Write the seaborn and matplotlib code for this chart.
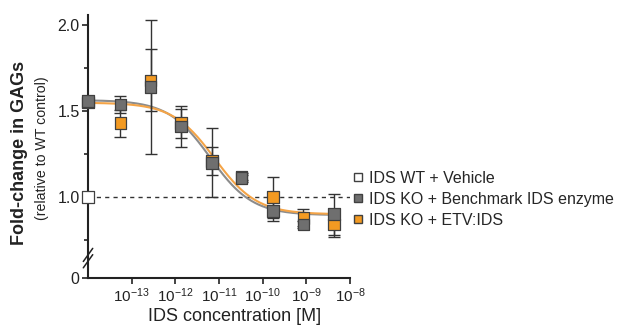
import numpy as np
import pandas as pd
import matplotlib
matplotlib.use('Agg')
import matplotlib.pyplot as plt
import seaborn as sns

# concentrations [M]; first point is the no-enzyme control drawn on the y axis
conc = [1e-14, 5.5e-14, 2.7e-13, 1.35e-12, 6.8e-12, 3.3e-11, 1.7e-10, 8.6e-10, 4.3e-9]
gray_vals = [1.56, 1.54, 1.64, 1.41, 1.20, 1.11, 0.92, 0.84, 0.90]
gray_err = [0.02, 0.05, 0.39, 0.12, 0.20, 0.02, 0.06, 0.02, 0.12]
orange_vals = [1.55, 1.43, 1.68, 1.43, 1.21, 1.12, 1.00, 0.88, 0.84]
orange_err = [0.02, 0.08, 0.18, 0.085, 0.08, 0.02, 0.12, 0.05, 0.07]
wt_val = 1.0

# 4PL fit parameters (top, bottom, logIC50, hill)
gray_fit = (1.565, 0.895, -11.2, 0.9)
orange_fit = (1.55, 0.90, -11.1, 0.9)

labels = ['IDS WT + Vehicle', 'IDS KO + Benchmark IDS enzyme', 'IDS KO + ETV:IDS']
xtick_exps = [-13, -12, -11, -10, -9, -8]
GRAY = '#6f6f6f'
ORANGE = '#f39a22'
INK = '#222222'

sns.set_style('ticks')
plt.rcParams['font.family'] = ['Liberation Sans', 'DejaVu Sans']
plt.rcParams['mathtext.fontset'] = 'custom'
plt.rcParams['mathtext.rm'] = 'Liberation Sans'

fig = plt.figure(figsize=(6.22, 3.27), dpi=100)
ax = fig.add_axes([0.1415, 0.1498, 0.4212, 0.8042])

Y0 = 0.529  # where "0" sits on the broken axis


def four_pl(logx, top, bottom, logic50, hill):
    return bottom + (top - bottom) / (1 + 10 ** ((logx - logic50) * hill))


logx = np.linspace(-14, np.log10(conc[-1]), 300)
curves = pd.DataFrame({
    'x': np.concatenate([10 ** logx, 10 ** logx]),
    'y': np.concatenate([four_pl(logx, *gray_fit), four_pl(logx, *orange_fit)]),
    'grp': ['g'] * len(logx) + ['o'] * len(logx),
})
sns.lineplot(data=curves, x='x', y='y', hue='grp', palette={'g': '#8c8c8c', 'o': '#f4a447'},
             linewidth=1.5, legend=False, ax=ax, zorder=2)

ax.axhline(1.0, color='#333333', linestyle=(0, (3, 3)), linewidth=1, zorder=1)

# error bars
ax.errorbar(conc, orange_vals, yerr=orange_err, fmt='none', ecolor='#333333',
            elinewidth=1, capsize=4.5, capthick=1, zorder=3, clip_on=False)
ax.errorbar(conc, gray_vals, yerr=gray_err, fmt='none', ecolor='#333333',
            elinewidth=1, capsize=4.5, capthick=1, zorder=3, clip_on=False)

pts = pd.DataFrame({'x': conc * 2, 'y': orange_vals + gray_vals,
                    'grp': ['o'] * len(conc) + ['g'] * len(conc)})
sns.scatterplot(data=pts, x='x', y='y', hue='grp', palette={'g': GRAY, 'o': ORANGE},
                marker='s', s=70, edgecolor='#404040', linewidth=0.9, legend=False,
                ax=ax, zorder=4, clip_on=False)
ax.scatter([conc[0]], [wt_val], marker='s', s=70, facecolor='white', edgecolor='#404040',
           linewidth=0.9, zorder=5, clip_on=False)

ax.set_xscale('log')
ax.set_xlim(1e-14, 1e-8)
ax.set_ylim(Y0, 2.06)
ax.set_xticks([10.0 ** e for e in xtick_exps])
ax.set_xticklabels([r'$\mathregular{10^{%d}}$' % e for e in xtick_exps],
                   fontsize=11, color=INK)
ax.xaxis.set_minor_locator(matplotlib.ticker.NullLocator())
ax.set_yticks([Y0, 1.0, 1.5, 2.0])
ax.set_yticklabels(['0', '1.0', '1.5', '2.0'], fontsize=11.5, color=INK)
ax.set_yticks([0.75, 1.25, 1.75], minor=True)
ax.tick_params(axis='both', which='major', length=4, width=1.2, color=INK, pad=2)
ax.tick_params(axis='y', which='minor', length=3, width=1.2, color=INK)
for side in ['left', 'bottom']:
    ax.spines[side].set_linewidth(1.5)
    ax.spines[side].set_color(INK)
sns.despine(ax=ax)

# axis break marks
yb = (0.645 - Y0) / (2.06 - Y0)
for dy in (-0.012, 0.012):
    ax.plot([-0.018, 0.018], [yb + dy - 0.025, yb + dy + 0.025], transform=ax.transAxes,
            color=INK, linewidth=1.1, clip_on=False, zorder=6)

ax.set_xlabel('IDS concentration [M]', fontsize=13, color=INK, labelpad=1)
ax.xaxis.set_label_coords(0.56, -0.115)
ax.set_ylabel('')
fig.text(0.032, 0.532, 'Fold-change in GAGs', rotation=90, fontsize=13, fontweight='bold',
         ha='center', va='center', color=INK)
fig.text(0.068, 0.547, '(relative to WT control)', rotation=90, fontsize=10.2,
         ha='center', va='center', color=INK)

handles = [
    plt.Line2D([], [], marker='s', linestyle='none', markersize=5.5, markerfacecolor='white',
               markeredgecolor='#404040'),
    plt.Line2D([], [], marker='s', linestyle='none', markersize=5.5, markerfacecolor=GRAY,
               markeredgecolor='#404040'),
    plt.Line2D([], [], marker='s', linestyle='none', markersize=5.5, markerfacecolor=ORANGE,
               markeredgecolor='#404040'),
]
fig.legend(handles, labels, loc='upper left', bbox_to_anchor=(0.568, 0.477), frameon=False,
           fontsize=11.5, handlelength=0.6, handletextpad=0.4, labelspacing=0.36,
           borderaxespad=0, borderpad=0)

fig.savefig('out.png', dpi=100)
